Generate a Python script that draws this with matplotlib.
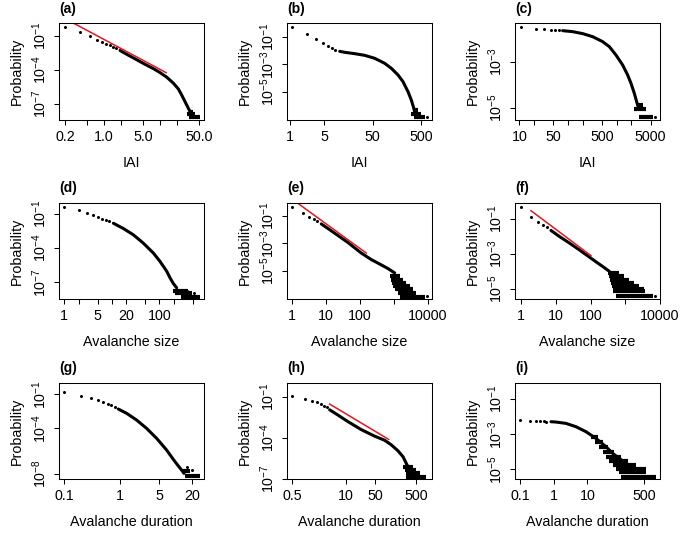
import numpy as np
import matplotlib
matplotlib.use("Agg")
import matplotlib.pyplot as plt
from matplotlib.ticker import NullLocator

plt.rcParams['font.family'] = ['Liberation Sans', 'DejaVu Sans']
plt.rcParams['mathtext.fontset'] = 'custom'
plt.rcParams['mathtext.rm'] = 'Liberation Sans'
plt.rcParams['mathtext.it'] = 'Liberation Sans:italic'
plt.rcParams['mathtext.bf'] = 'Liberation Sans:bold'

# ---------------- (a) IAI ----------------
a_head_x = [0.2, 0.37, 0.555, 0.74, 0.91, 1.09, 1.27, 1.46, 1.63]
a_head_y = [0.622, 0.197, 0.0871, 0.0447, 0.0275, 0.0195, 0.0141, 0.0100, 0.00759]
a_curve_x = [1.92, 2.53, 3.33, 4.39, 5.78, 7.62, 10.0, 13.2, 17.4, 21.4, 24.6, 28.2, 32.4, 34.8]
a_curve_y = [5.0e-3, 2.3e-3, 1.1e-3, 5.2e-4, 2.5e-4, 1.25e-4, 5.6e-5, 2.2e-5,
             6.5e-6, 2.0e-6, 5.75e-7, 1.51e-7, 3.89e-8, 1.95e-8]
a_bar_y = [2.0e-8, 1.15e-8, 6.2e-9]
a_bar_x0 = [33.0, 31.1, 33.8]
a_bar_x1 = [40.0, 42.7, 52.5]
a_lone_x = []
a_lone_y = []
a_red_x = [0.286, 12.9]
a_red_y = [1.22, 5.5e-5]

# ---------------- (b) IAI ----------------
b_head_x = [1.12, 2.27, 3.48, 4.69, 6.04, 7.41, 8.55]
b_head_y = [0.532, 0.165, 0.0716, 0.0366, 0.0210, 0.0142, 0.0107]
b_curve_x = [10.5, 13.3, 21.3, 34.2, 55.0, 88.1, 121, 166, 210, 266, 311, 342, 365]
b_curve_y = [8.61e-3, 7.28e-3, 5.82e-3, 4.41e-3, 2.67e-3, 1.16e-3, 5.0e-4, 1.64e-4,
             5.38e-5, 1.01e-5, 2.51e-6, 8.22e-7, 3.56e-7]
b_bar_y = [5.0e-7, 2.4e-7, 1.38e-7]
b_bar_x0 = [330, 311, 353]
b_bar_x1 = [420, 500, 585]
b_lone_x = [664]
b_lone_y = [1.38e-7]

# ---------------- (c) IAI ----------------
c_head_x = [11.0, 22.0, 32.7, 44.8, 55.0, 66.4]
c_head_y = [0.0344, 0.0272, 0.0272, 0.0255, 0.0246, 0.0238]
c_curve_x = [77.6, 125, 200, 321, 515, 706, 968, 1327, 1683, 1972, 2307, 2576, 2831]
c_curve_y = [0.0230, 0.0208, 0.0171, 0.0126, 7.66e-3, 4.65e-3, 2.01e-3, 7.41e-4,
             2.72e-4, 1.18e-4, 4.35e-5, 1.88e-5, 9.68e-6]
c_bar_y = [1.41e-5, 8.75e-6, 4.06e-6]
c_bar_x0 = [2576, 2307, 2831]
c_bar_x1 = [3420, 4009, 5495]
c_lone_x = [6237]
c_lone_y = [4.06e-6]

# ---------------- (d) Avalanche size ----------------
d_head_x = [1, 2.04, 3.05, 4.08, 5.2, 6.3, 7.5, 8.85]
d_head_y = [0.406, 0.195, 0.114, 0.0716, 0.0513, 0.0367, 0.0281, 0.0215]
d_curve_x = [10.8, 17.5, 28.4, 46.0, 74.8, 103, 143, 168, 197, 232]
d_curve_y = [1.44e-2, 4.97e-3, 1.40e-3, 2.63e-4, 3.56e-5, 6.70e-6, 9.06e-7, 2.38e-7,
             7.66e-8, 3.21e-8]
d_bar_y = [1.78e-8, 1.12e-8, 5.3e-9]
d_bar_x0 = [197, 214, 281]
d_bar_x1 = [408, 480, 718]
d_lone_x = [376, 546]
d_lone_y = [1.66e-8, 1.17e-8]

# ---------------- (e) Avalanche size ----------------
e_head_x = [1, 2.07, 3.03, 4.36, 5.46]
e_head_y = [0.448, 0.148, 0.0847, 0.0543, 0.0389]
e_curve_x = [7.16, 11.3, 22.2, 43.9, 108, 214, 422, 664, 1045]
e_curve_y = [0.0250, 0.0115, 3.6e-3, 1.1e-3, 1.9e-4, 6.3e-5, 2.6e-5, 1.4e-5, 6.78e-6]
e_bar_y = [3.89e-6, 2.23e-6, 1.28e-6, 7.36e-7, 4.24e-7, 2.43e-7, 1.25e-7]
e_bar_x0 = [743, 796, 871, 933, 1045, 1309, 1466]
e_bar_x1 = [1466, 1837, 2307, 2891, 3631, 4550, 8017]
e_lone_x = [9594]
e_lone_y = [1.40e-7]
e_red_x = [1.47, 152]
e_red_y = [0.780, 1.89e-4]

# ---------------- (f) Avalanche size ----------------
f_head_x = [1, 1.90, 2.96, 4.14, 5.40]
f_head_y = [0.502, 0.124, 0.0646, 0.0456, 0.0351]
f_curve_x = [7.19, 12.5, 24.4, 47.4, 92.3, 144, 224, 349]
f_curve_y = [0.0220, 0.0100, 4.2e-3, 1.7e-3, 6.6e-4, 3.5e-4, 1.9e-4, 1.0e-4]
f_bar_y = [8.13e-5, 5.25e-5, 3.40e-5, 2.19e-5, 1.42e-5, 9.17e-6, 7.05e-6, 3.83e-6]
f_bar_x0 = [313, 349, 365, 391, 417, 436, 436, 545]
f_bar_x1 = [680, 948, 1322, 1845, 2572, 3589, 3837, 6252]
f_lone_x = [7464]
f_lone_y = [3.83e-6]
f_red_x = [1.90, 103]
f_red_y = [0.298, 7.9e-4]

# ---------------- (g) Avalanche duration ----------------
g_head_x = [0.1, 0.2, 0.3, 0.4, 0.5, 0.6, 0.7, 0.8]
g_head_y = [0.150, 0.0762, 0.0474, 0.0316, 0.0211, 0.0150, 0.0107, 7.6e-3]
g_curve_x = [0.933, 1.32, 1.99, 3.01, 4.56, 6.89, 9.08, 11.2, 12.8, 14.1]
g_curve_y = [5.08e-3, 2.11e-3, 5.43e-4, 1.0e-4, 1.31e-5, 1.22e-6, 1.84e-7, 4.74e-8,
             2.11e-8, 1.07e-8]
g_bar_y = [1.58e-8, 6.2e-9]
g_bar_x0 = [13.4, 14.7]
g_bar_x1 = [18.1, 27.4]
g_lone_x = [19.4, 15.8]
g_lone_y = [2.11e-8, 3.6e-8]

# ---------------- (h) Avalanche duration ----------------
h_head_x = [0.5, 1.0, 1.5, 2.0, 2.5, 3.0, 3.5]
h_head_y = [0.112, 0.0714, 0.0509, 0.0385, 0.0290, 0.0219, 0.0175]
h_curve_x = [4.0, 6.37, 11.1, 23.3, 49.1, 85.7, 124, 180, 238, 286, 345]
h_curve_y = [0.0110, 4.5e-3, 1.5e-3, 3.9e-4, 1.3e-4, 6.5e-5, 3.0e-5, 1.1e-5,
             4.07e-6, 1.32e-6, 4.31e-7]
h_bar_y = [7.55e-7, 4.31e-7, 2.45e-7, 1.40e-7]
h_bar_x0 = [238, 261, 286, 286]
h_bar_x1 = [415, 500, 603, 873]
h_lone_x = []
h_lone_y = []
h_red_x = [4.0, 107]
h_red_y = [0.0290, 7.55e-5]

# ---------------- (i) Avalanche duration ----------------
i_head_x = [0.1, 0.2, 0.3, 0.4, 0.5, 0.6]
i_head_y = [6.12e-3, 5.86e-3, 5.61e-3, 5.37e-3, 5.37e-3, 5.14e-3]
i_curve_x = [0.822, 1.16, 2.30, 4.57, 9.08, 18.0, 35.9, 56.6, 89.5, 142, 224]
i_curve_y = [5.14e-3, 4.92e-3, 4.13e-3, 2.67e-3, 1.39e-3, 5.79e-4, 1.95e-4, 8.13e-5,
             4.23e-5, 2.19e-5, 1.42e-5]
i_bar_y = [7.21e-4, 3.74e-4, 1.95e-4, 1.01e-4, 5.25e-5, 2.98e-5, 1.76e-5, 1.0e-5, 7.05e-6, 3.83e-6]
i_bar_x0 = [12.8, 17.3, 22.7, 28.5, 35.9, 45.1, 56.6, 71.3, 85.5, 100]
i_bar_x1 = [20.2, 28.5, 40.2, 63.5, 100, 159, 281, 560, 560, 1112]
i_lone_x = []
i_lone_y = []

# ticks
iai_a_xticks = [0.2, 0.5, 1, 2, 5, 10, 20, 50]
iai_a_xlabels = ['0.2', '', '1.0', '', '5.0', '', '', '50.0']
iai_b_xticks = [1, 5, 50, 500]
iai_b_xlabels = ['1', '5', '50', '500']
iai_c_xticks = [10, 20, 50, 100, 200, 500, 1000, 2000, 5000]
iai_c_xlabels = ['10', '', '50', '', '', '500', '', '', '5000']
size_d_xticks = [1, 2, 5, 10, 20, 50, 100, 200, 500]
size_d_xlabels = ['1', '', '5', '', '20', '', '100', '', '']
size_ef_xticks = [1, 10, 100, 1000, 10000]
size_ef_xlabels = ['1', '10', '100', '', '10000']
dur_g_xticks = [0.1, 1, 5, 20]
dur_g_xlabels = ['0.1', '1', '5', '20']
dur_h_xticks = [0.5, 10, 50, 500]
dur_h_xlabels = ['0.5', '10', '50', '500']
dur_i_xticks = [0.1, 1, 10, 500]
dur_i_xlabels = ['0.1', '1', '10', '500']

yticks_147 = [1e-1, 1e-4, 1e-7]
yticks_135 = [1e-1, 1e-3, 1e-5]
yticks_35 = [1e-3, 1e-5]
yticks_148 = [1e-1, 1e-4, 1e-8]

RED = '#E8161B'


def draw_panel(ax, tag, xlabel, head, curve, bars, lone, xlim, ylim,
               xticks, xlabels, yticks, red=None):
    ax.set_xscale('log')
    ax.set_yscale('log')
    ax.plot(curve[0], curve[1], '-', color='black', lw=2.2,
            solid_capstyle='round', solid_joinstyle='round')
    ax.plot(head[0], head[1], 'o', color='black', ms=2.2, mew=0)
    ax.hlines(bars[0], bars[1], bars[2], colors='black', lw=3.0)
    if len(lone[0]):
        ax.plot(lone[0], lone[1], 'o', color='black', ms=2.2, mew=0)
    if red is not None:
        ax.plot(red[0], red[1], '-', color=RED, lw=1.1)
    ax.set_xlim(*xlim)
    ax.set_ylim(*ylim)

    ax.xaxis.set_minor_locator(NullLocator())
    ax.yaxis.set_minor_locator(NullLocator())
    ax.set_xticks(xticks, xlabels)
    ylabs = [r'$10^{%d}$' % int(round(np.log10(t))) for t in yticks]
    ax.set_yticks(yticks, ylabs)
    ax.tick_params(length=3.6, width=0.75, labelsize=10.3, pad=3.5, direction='out')
    for lbl in ax.get_yticklabels():
        lbl.set_rotation(90)
        lbl.set_va('center')
    for sp in ax.spines.values():
        sp.set_linewidth(0.75)

    ax.text(-0.263, 0.5, 'Probability', transform=ax.transAxes, rotation=90,
            rotation_mode='anchor', ha='center', va='baseline', fontsize=10.3)
    ax.text(0.5, -0.481, xlabel, transform=ax.transAxes, ha='center',
            va='baseline', fontsize=10.3)
    ax.text(0.0, 1.148, tag, transform=ax.transAxes, ha='left', va='center',
            fontsize=10, fontweight='bold')


fig = plt.figure(figsize=(6.85, 5.39), dpi=100, facecolor='white')
W, H = 685.0, 539.0
lefts = [59.3, 287.3, 515.3]
tops = [23.3, 202.7, 382.7]
aw, ah = 144.7, 96.7


def make_ax(row, col):
    return fig.add_axes([lefts[col] / W, (H - tops[row] - ah) / H, aw / W, ah / H])


draw_panel(make_ax(0, 0), '(a)', 'IAI', (a_head_x, a_head_y), (a_curve_x, a_curve_y),
           (a_bar_y, a_bar_x0, a_bar_x1), (a_lone_x, a_lone_y),
           (0.156, 61.8), (3.63e-9, 1.24), iai_a_xticks, iai_a_xlabels, yticks_147,
           red=(a_red_x, a_red_y))
draw_panel(make_ax(0, 1), '(b)', 'IAI', (b_head_x, b_head_y), (b_curve_x, b_curve_y),
           (b_bar_y, b_bar_x0, b_bar_x1), (b_lone_x, b_lone_y),
           (0.881, 828), (8.85e-8, 0.931), iai_b_xticks, iai_b_xlabels, yticks_135)
draw_panel(make_ax(0, 2), '(c)', 'IAI', (c_head_x, c_head_y), (c_curve_x, c_curve_y),
           (c_bar_y, c_bar_x0, c_bar_x1), (c_lone_x, c_lone_y),
           (8.27, 7780), (3.0e-6, 0.048), iai_c_xticks, iai_c_xlabels, yticks_35)
draw_panel(make_ax(1, 0), '(d)', 'Avalanche size', (d_head_x, d_head_y), (d_curve_x, d_curve_y),
           (d_bar_y, d_bar_x0, d_bar_x1), (d_lone_x, d_lone_y),
           (0.785, 871), (3.11e-9, 0.906), size_d_xticks, size_d_xlabels, yticks_147)
draw_panel(make_ax(1, 1), '(e)', 'Avalanche size', (e_head_x, e_head_y), (e_curve_x, e_curve_y),
           (e_bar_y, e_bar_x0, e_bar_x1), (e_lone_x, e_lone_y),
           (0.713, 13200), (8.0e-8, 0.871), size_ef_xticks, size_ef_xlabels, yticks_135,
           red=(e_red_x, e_red_y))
draw_panel(make_ax(1, 2), '(f)', 'Avalanche size', (f_head_x, f_head_y), (f_curve_x, f_curve_y),
           (f_bar_y, f_bar_x0, f_bar_x1), (f_lone_x, f_lone_y),
           (0.671, 10180), (2.47e-6, 0.849), size_ef_xticks, size_ef_xlabels, yticks_135,
           red=(f_red_x, f_red_y))
draw_panel(make_ax(2, 0), '(g)', 'Avalanche duration', (g_head_x, g_head_y), (g_curve_x, g_curve_y),
           (g_bar_y, g_bar_x0, g_bar_x1), (g_lone_x, g_lone_y),
           (0.0813, 32.3), (3.16e-9, 1.07), dur_g_xticks, dur_g_xlabels, yticks_148)
draw_panel(make_ax(2, 1), '(h)', 'Avalanche duration', (h_head_x, h_head_y), (h_curve_x, h_curve_y),
           (h_bar_y, h_bar_x0, h_bar_x1), (h_lone_x, h_lone_y),
           (0.378, 1197), (8.93e-8, 1.057), dur_h_xticks, dur_h_xlabels, yticks_147,
           red=(h_red_x, h_red_y))
draw_panel(make_ax(2, 2), '(i)', 'Avalanche duration', (i_head_x, i_head_y), (i_curve_x, i_curve_y),
           (i_bar_y, i_bar_x0, i_bar_x1), (i_lone_x, i_lone_y),
           (0.071, 1462), (2.70e-6, 0.849), dur_i_xticks, dur_i_xlabels, yticks_135)

fig.savefig('out.png', dpi=100, facecolor='white')
